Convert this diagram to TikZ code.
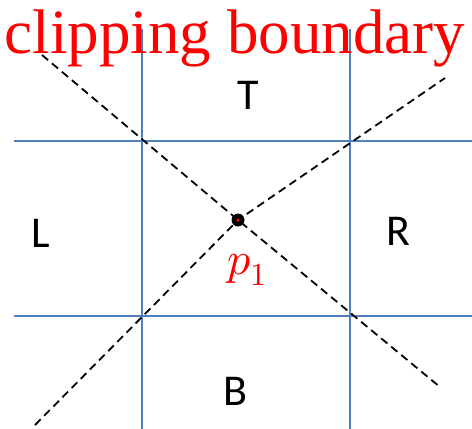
\documentclass[tikz,border=0pt]{standalone}
\usepackage{fontspec}
\usepackage{unicode-math}
\usepackage{tikz}
\usetikzlibrary{positioning, calc}
\setmainfont{Liberation Serif}
\setmathfont{Latin Modern Math}
\newfontfamily\regionfont{Carlito}
\definecolor{gridBlue}{RGB}{79,129,189}
\definecolor{titleRed}{RGB}{255,0,0}
\tikzset{
    grid line/.style={draw=gridBlue, line width=1.7pt},
    cutline/.style={draw=black, line width=1.8pt, dash pattern=on 8pt off 5pt},
    region/.style={font=\regionfont\fontsize{44}{48}\selectfont, text=black, inner sep=0pt},
    title/.style={font=\fontsize{63}{70}\selectfont, text=titleRed, inner sep=0pt}
}

\begin{document}
\begin{tikzpicture}[x=1pt, y=-1pt]
    \useasboundingbox (0,0) rectangle (472,429);

    % Grid of the window
    \coordinate (vl top) at (142,29);
    \coordinate (vl bot) at (142,429);
    \coordinate (vr top) at (350,29);
    \coordinate (vr bot) at (350,429);
    \coordinate (ht left) at (14,141);
    \coordinate (ht right) at (472,141);
    \coordinate (hb left) at (14,316);
    \coordinate (hb right) at (472,316);
    \draw[grid line] (vl top) -- (vl bot);
    \draw[grid line] (vr top) -- (vr bot);
    \draw[grid line] (ht left) -- (ht right);
    \draw[grid line] (hb left) -- (hb right);

    % Title
    \node[title, anchor=base] (heading) at (235,53) {clipping boundary};

    % Lines through the point
    \coordinate (p1) at (238,220);
    \coordinate (a start) at (42,55);
    \coordinate (a end) at (440,387);
    \coordinate (b start) at (35,425);
    \coordinate (b end) at (445,78);
    \draw[cutline] (a start) -- (p1) -- (a end);
    \draw[cutline] (b start) -- (p1) -- (b end);

    % The point
    \node[circle, fill=black, minimum size=13pt, inner sep=0pt] (dot) at (p1) {};
    \node[circle, fill=titleRed, minimum size=3.5pt, inner sep=0pt] (core) at (p1) {};
    \node[text=titleRed, font=\fontsize{46}{50}\selectfont, inner sep=0pt] (plabel) at (247,270) {$p_1$};

    % Regions
    \node[region] (top) at (248,95) {T};
    \node[region] (left) at (41,233) {L};
    \node[region] (right) at (398,231) {R};
    \node[region] (bottom) at (235,391) {B};
\end{tikzpicture}
\end{document}
